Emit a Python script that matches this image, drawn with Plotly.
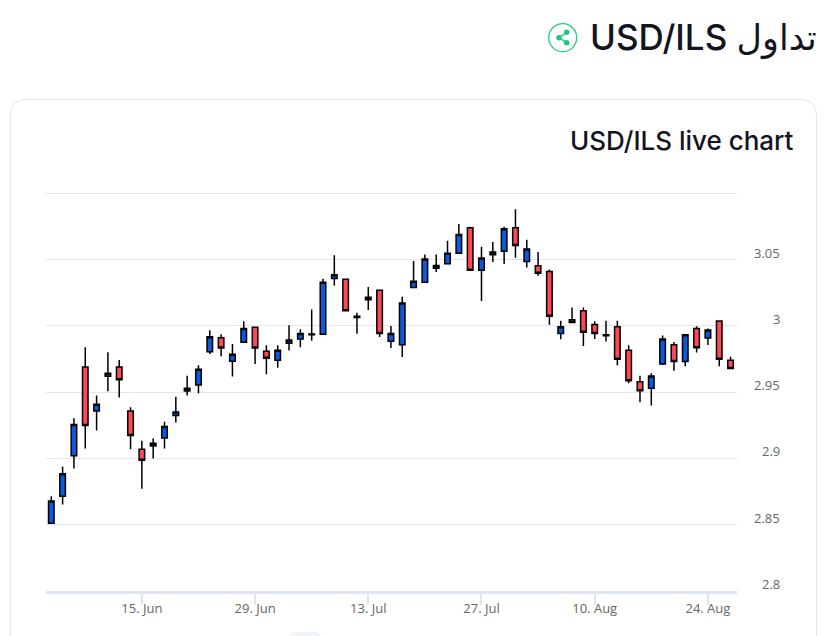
import pandas as pd
import plotly.graph_objects as go

W, H = 829, 636

# weekdays only, the chart skips weekends
dates = pd.bdate_range("2020-06-03", "2020-08-26")

opens = [2.8512, 2.8715, 2.9020, 2.9691, 2.9359, 2.9620, 2.9691, 2.9359, 2.9070, 2.9095,
         2.9155, 2.9324, 2.9510, 2.9555, 2.9806, 2.9912, 2.9733, 2.9877, 2.9990, 2.9809,
         2.9741, 2.9869, 2.9902, 2.9934, 2.9937, 3.0359, 3.0352, 3.0073, 3.0216, 3.0269,
         2.9884, 2.9859, 3.0291, 3.0329, 3.0435, 3.0470, 3.0548, 3.0741, 3.0420, 3.0538,
         3.0563, 3.0741, 3.0487, 3.0455, 3.0412, 2.9944, 3.0047, 3.0115, 3.0012, 2.9934,
         2.9995, 2.9816, 2.9580, 2.9530, 2.9713, 2.9859, 2.9731, 2.9980, 2.9909, 3.0037,
         2.9741]
closes = [2.8680, 2.8884, 2.9256, 2.9248, 2.9409, 2.9643, 2.9595, 2.9173, 2.8987, 2.9115,
          2.9241, 2.9351, 2.9530, 2.9673, 2.9919, 2.9834, 2.9786, 2.9980, 2.9834, 2.9756,
          2.9816, 2.9894, 2.9944, 2.9939, 3.0329, 3.0387, 3.0115, 3.0063, 3.0198, 2.9944,
          2.9944, 3.0173, 3.0337, 3.0505, 3.0457, 3.0548, 3.0691, 3.0420, 3.0513, 3.0558,
          3.0734, 3.0608, 3.0580, 3.0397, 3.0073, 2.9995, 3.0027, 2.9952, 2.9944, 2.9927,
          2.9748, 2.9587, 2.9512, 2.9623, 2.9902, 2.9731, 2.9934, 2.9836, 2.9970, 2.9748,
          2.9680]
highs = [2.8715, 2.8937, 2.9304, 2.9839, 2.9475, 2.9801, 2.9744, 2.9387, 2.9133, 2.9153,
         2.9278, 2.9465, 2.9625, 2.9703, 2.9967, 2.9937, 2.9864, 3.0035, 2.9990, 2.9854,
         2.9854, 3.0005, 2.9975, 3.0125, 3.0357, 3.0533, 3.0357, 3.0100, 3.0294, 3.0269,
         3.0000, 3.0221, 3.0490, 3.0540, 3.0540, 3.0643, 3.0769, 3.0749, 3.0598, 3.0633,
         3.0749, 3.0880, 3.0651, 3.0558, 3.0427, 3.0040, 3.0140, 3.0140, 3.0035, 3.0040,
         3.0040, 2.9854, 2.9625, 2.9643, 2.9929, 2.9879, 2.9934, 2.9997, 2.9980, 3.0037,
         2.9768]
lows = [2.8512, 2.8652, 2.8924, 2.9075, 2.9211, 2.9507, 2.9460, 2.9070, 2.8771, 2.8999,
        2.9075, 2.9271, 2.9475, 2.9492, 2.9789, 2.9771, 2.9618, 2.9877, 2.9713, 2.9635,
        2.9685, 2.9814, 2.9839, 2.9889, 2.9937, 3.0306, 3.0115, 2.9942, 3.0120, 2.9917,
        2.9834, 2.9766, 3.0291, 3.0329, 3.0407, 3.0470, 3.0548, 3.0420, 3.0188, 3.0482,
        3.0467, 3.0515, 3.0442, 3.0379, 3.0010, 2.9899, 3.0022, 2.9849, 2.9902, 2.9882,
        2.9703, 2.9567, 2.9424, 2.9399, 2.9706, 2.9663, 2.9696, 2.9799, 2.9856, 2.9696,
        2.9680]

x_ticks = ["2020-06-15", "2020-06-29", "2020-07-13", "2020-07-27", "2020-08-10", "2020-08-24"]
x_labels = ["15. Jun", "29. Jun", "13. Jul", "27. Jul", "10. Aug", "24. Aug"]
y_grid = [2.8, 2.85, 2.9, 2.95, 3, 3.05, 3.1]
y_labels = ["2.8", "2.85", "2.9", "2.95", "3", "3.05"]

fig = go.Figure()
fig.add_trace(go.Candlestick(
    x=dates, open=opens, high=highs, low=lows, close=closes,
    increasing=dict(fillcolor="#0a5ae0", line=dict(color="#000000", width=1.5)),
    decreasing=dict(fillcolor="#ff4757", line=dict(color="#000000", width=1.5)),
    whiskerwidth=0, showlegend=False, hoverinfo="skip",
))

# page furniture is drawn in pixels on a second pair of axes
fig.update_layout(
    width=W, height=H, margin=dict(l=0, r=0, t=0, b=0),
    autosize=False,
    paper_bgcolor="white", plot_bgcolor="rgba(0,0,0,0)",
    boxgap=0.3,
    font=dict(family="Open Sans, sans-serif", color="#666666", size=13),
    xaxis=dict(
        domain=[46 / W, 737 / W], anchor="y",
        type="date", range=["2020-06-02 12:46", "2020-08-26 13:40"],
        rangebreaks=[dict(bounds=["sat", "mon"])],
        rangeslider=dict(visible=False),
        tickmode="array", tickvals=x_ticks, ticktext=x_labels,
        ticks="outside", ticklen=11, tickwidth=1.5, tickcolor="#dfe6f2",
        ticklabelstandoff=-7,
        showline=True, linecolor="#dfe6f2", linewidth=2.5,
        showgrid=False, zeroline=False,
        tickfont=dict(size=13, color="#666666"),
    ),
    yaxis=dict(
        domain=[(H - 591) / H, (H - 192) / H], anchor="x",
        range=[2.8, 3.1011],
        tickmode="array", tickvals=y_grid, showticklabels=False,
        showgrid=True, gridcolor="#e6e6e6", gridwidth=1,
        zeroline=False, showline=False, ticks="",
    ),
    xaxis2=dict(domain=[0, 1], range=[0, W], anchor="y2", visible=False, fixedrange=True),
    yaxis2=dict(domain=[0, 1], range=[H, 0], anchor="x2", visible=False, fixedrange=True),
)

# card, share icon, bit of the button under the chart
px = dict(xref="x2", yref="y2", layer="below")
fig.add_shape(type="path", path="M 10.5 640 L 10.5 115 Q 10.5 99.5 26 99.5 L 801 99.5 Q 816.5 99.5 816.5 115 L 816.5 640",
              line=dict(color="#e5e6ee", width=1), **px)
fig.add_shape(type="path", path="M 288 640 L 288 638 Q 290 632 296 632 L 314 632 Q 320 632 322 638 L 322 640 Z",
              fillcolor="#eef4fb", line=dict(width=0), **px)
fig.add_shape(type="circle", x0=548.7, x1=576.7, y0=23.7, y1=51.7,
              line=dict(color="#22cf80", width=1.3), **px)
fig.add_shape(type="path", path="M 566.7 32.3 L 559 37.7 L 566.7 42.7",
              line=dict(color="#1fc979", width=1.5), **px)
for cx, cy in [(566.7, 32.3), (559, 37.7), (566.7, 42.7)]:
    fig.add_shape(type="circle", x0=cx - 2.7, x1=cx + 2.7, y0=cy - 2.7, y1=cy + 2.7,
                  fillcolor="#1fc979", line=dict(width=0), **px)

fig.add_annotation(text="USD/ILS تداول", xref="x2", yref="y2", x=819, y=37, xanchor="right", yanchor="middle",
                   showarrow=False, font=dict(family="Inter, DejaVu Sans, sans-serif", size=35, color="#14141f", weight=500))
fig.add_annotation(text="USD/ILS live chart", xref="x2", yref="y2", x=795.5, y=140.5, xanchor="right", yanchor="middle",
                   showarrow=False, font=dict(family="Inter, sans-serif", size=26, color="#14141f", weight=500))

# y labels sit above their grid lines
for val, lab in zip(y_grid, y_labels):
    fig.add_annotation(text=lab, x=782 / W, xref="paper", y=val, yref="y", xanchor="right", yanchor="middle",
                       yshift=7, showarrow=False, font=dict(size=13, color="#666666"))

# the page's default body margin would push the figure 8px off
fig.write_html("out.html", config=dict(displayModeBar=False), post_script="document.body.style.margin='0';")
